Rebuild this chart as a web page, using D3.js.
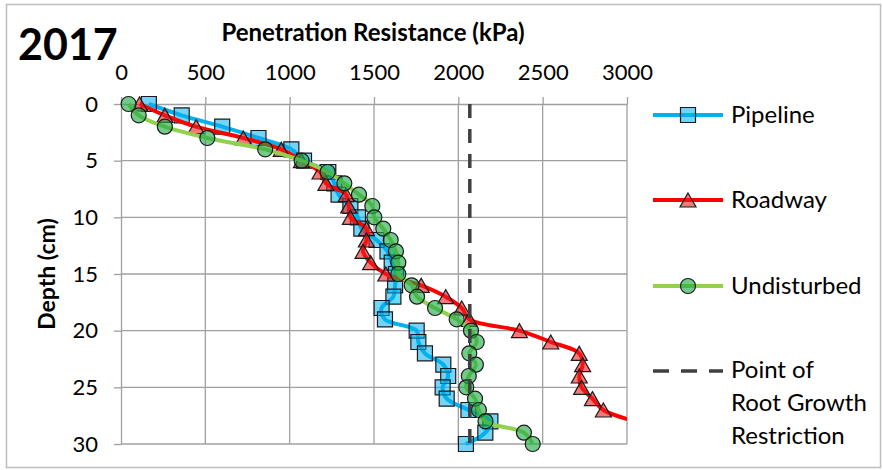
<!DOCTYPE html>
<html>
<head>
<meta charset="utf-8">
<script src="https://cdn.jsdelivr.net/npm/d3@7"></script>
<style>
  body { margin: 0; background: #fff; }
  svg { display: block; font-family: Lato, "Open Sans", sans-serif; }
</style>
</head>
<body>
<svg width="883" height="470"></svg>
<script>
const depths = [0, 1, 2, 3, 4, 5, 6, 7, 8, 9, 10, 11, 12, 13, 14, 15, 16, 17, 18, 19, 20, 21, 22, 23, 24, 25, 26, 27, 28, 29, 30];
const pipeline = [165, 360, 600, 815, 1010, 1085, 1229, 1265, 1290, 1360, 1405, 1425, 1515, 1580, 1605, 1630, 1625, 1615, 1545, 1565, 1753, 1763, 1802, 1911, 1940, 1907, 1931, 2060, 2190, 2160, 2045];
// roadway runs off the axis after 27 cm
const roadway = [110, 260, 445, 725, 950, 1070, 1180, 1215, 1335, 1350, 1360, 1455, 1455, 1435, 1480, 1570, 1780, 1925, 2020, 2065, 2362, 2548, 2717, 2737, 2717, 2731, 2795, 2860, 3050];
const undisturbed = [45, 105, 260, 512, 855, 1071, 1225, 1324, 1411, 1490, 1502, 1555, 1599, 1630, 1644, 1644, 1723, 1755, 1862, 1990, 2075, 2109, 2065, 2104, 2062, 2047, 2099, 2122, 2161, 2389, 2441];
const restriction = 2068;
const xTicks = [0, 500, 1000, 1500, 2000, 2500, 3000];
const yTicks = [0, 5, 10, 15, 20, 25, 30];

const svg = d3.select("svg");

svg.append("rect")
  .attr("x", 6.5).attr("y", 4.5)
  .attr("width", 874).attr("height", 463)
  .attr("fill", "#fff")
  .attr("stroke", "#bdbdbd")
  .attr("stroke-width", 1.5);

const x = d3.scaleLinear().domain([0, 3000]).range([121, 627]);
const y = d3.scaleLinear().domain([0, 30]).range([104, 444]);

// gridlines
svg.append("g").selectAll("line")
  .data(xTicks.slice(1))
  .enter().append("line")
  .attr("x1", d => x(d)).attr("x2", d => x(d))
  .attr("y1", y(0)).attr("y2", y(30))
  .attr("stroke", "#a0a0a0").attr("stroke-width", 1.3);

svg.append("g").selectAll("line")
  .data(yTicks.slice(1))
  .enter().append("line")
  .attr("x1", x(0)).attr("x2", x(3000))
  .attr("y1", d => y(d)).attr("y2", d => y(d))
  .attr("stroke", "#a0a0a0").attr("stroke-width", 1.3);

const xAxis = svg.append("g")
  .attr("transform", `translate(0,${y(0)})`)
  .call(d3.axisTop(x).tickValues(xTicks).tickFormat(d3.format("d"))
    .tickSize(7).tickSizeOuter(0).tickPadding(17));

const yAxis = svg.append("g")
  .attr("transform", `translate(${x(0)},0)`)
  .call(d3.axisLeft(y).tickValues(yTicks).tickSize(7).tickSizeOuter(0).tickPadding(16));

[xAxis, yAxis].forEach(g => {
  g.selectAll("path, line").attr("stroke", "#a0a0a0").attr("stroke-width", 1.3);
  g.selectAll("text").attr("font-size", 22).attr("fill", "#000").attr("font-family", "Lato, sans-serif");
});

svg.append("defs").append("clipPath").attr("id", "plot")
  .append("rect")
  .attr("x", x(0)).attr("y", y(0) - 10)
  .attr("width", x(3000) - x(0)).attr("height", y(30) - y(0) + 20);

const tri = "M0,-7L8,7L-8,7Z";
const series = [
  { name: "Pipeline", values: pipeline, line: "#00b0f0", fill: "rgba(0,176,240,0.55)",
    shape: d3.symbol(d3.symbolSquare, 225)() },
  { name: "Roadway", values: roadway, line: "#ff0000", fill: "rgba(240,30,30,0.6)", shape: tri },
  { name: "Undisturbed", values: undisturbed, line: "#92d050", fill: "rgba(30,170,70,0.62)",
    shape: d3.symbol(d3.symbolCircle, Math.PI * 7.5 * 7.5)() }
];

const line = d3.line()
  .x(d => x(d[1]))
  .y(d => y(d[0]))
  .curve(d3.curveCatmullRom.alpha(0.5));

series.forEach(s => {
  const pts = s.values.map((v, i) => [depths[i], v]);
  svg.append("path")
    .datum(pts)
    .attr("clip-path", "url(#plot)")
    .attr("d", line)
    .attr("fill", "none")
    .attr("stroke", s.line)
    .attr("stroke-width", 4)
    .attr("stroke-linejoin", "round");

  svg.append("g").selectAll("path")
    .data(pts.filter(p => p[1] <= 3000))
    .enter().append("path")
    .attr("d", s.shape)
    .attr("transform", d => `translate(${x(d[1])},${y(d[0])})`)
    .attr("fill", s.fill)
    .attr("stroke", "#1a1a1a")
    .attr("stroke-width", 1.2);
});

svg.append("line")
  .attr("x1", x(restriction)).attr("x2", x(restriction))
  .attr("y1", y(0)).attr("y2", y(30))
  .attr("stroke", "#404040")
  .attr("stroke-width", 3.5)
  .attr("stroke-dasharray", "14,11");

// titles
svg.append("text")
  .attr("x", 18).attr("y", 60)
  .attr("font-size", 43).attr("font-weight", "bold")
  .text("2017");

svg.append("text")
  .attr("x", 373).attr("y", 41)
  .attr("text-anchor", "middle")
  .attr("font-size", 24).attr("font-weight", "bold")
  .text("Penetration Resistance (kPa)");

svg.append("text")
  .attr("transform", "translate(47,274) rotate(-90)")
  .attr("text-anchor", "middle")
  .attr("dy", "0.35em")
  .attr("font-size", 23).attr("font-weight", "bold")
  .text("Depth (cm)");

// legend
const legendY = [115, 200, 286];
const legend = svg.append("g");
series.forEach((s, i) => {
  legend.append("line")
    .attr("x1", 653).attr("x2", 723)
    .attr("y1", legendY[i]).attr("y2", legendY[i])
    .attr("stroke", s.line).attr("stroke-width", 4);
  legend.append("path")
    .attr("d", s.shape)
    .attr("transform", `translate(688,${legendY[i]})`)
    .attr("fill", s.fill)
    .attr("stroke", "#1a1a1a")
    .attr("stroke-width", 1.2);
  legend.append("text")
    .attr("x", 731).attr("y", legendY[i])
    .attr("dy", "0.35em")
    .attr("font-size", 24)
    .text(s.name);
});

legend.append("line")
  .attr("x1", 653).attr("x2", 723)
  .attr("y1", 371).attr("y2", 371)
  .attr("stroke", "#404040").attr("stroke-width", 3.5)
  .attr("stroke-dasharray", "16,12");

["Point of", "Root Growth", "Restriction"].forEach((t, i) => {
  legend.append("text")
    .attr("x", 731).attr("y", 370 + i * 33)
    .attr("dy", "0.35em")
    .attr("font-size", 24)
    .text(t);
});
</script>
</body>
</html>
